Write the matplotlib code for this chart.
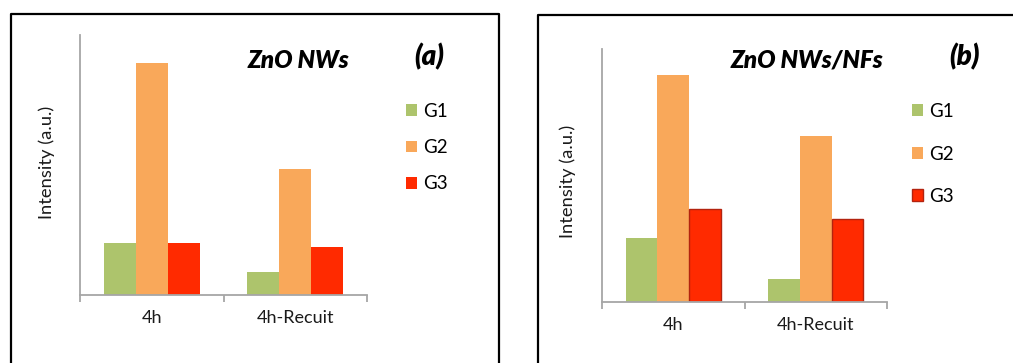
import matplotlib
matplotlib.use("Agg")
import matplotlib.pyplot as plt
from matplotlib.lines import Line2D
import numpy as np

plt.rcParams['font.family'] = ['Lato', 'DejaVu Sans']

categories = ["4h", "4h-Recuit"]
series = ["G1", "G2", "G3"]
# panel (a) ZnO NWs (arbitrary units)
a_vals = {"G1": [52, 23], "G2": [232, 126], "G3": [52, 48]}
a_ymax = 260
# panel (b) ZnO NWs/NFs
b_vals = {"G1": [64, 23], "G2": [227, 166], "G3": [93, 83]}
b_ymax = 253

colors = {"G1": "#ADC46C", "G2": "#F9A85A", "G3": "#FF2A00"}

W, H = 1013, 363
fig = plt.figure(figsize=(W / 100, H / 100), dpi=100)


def fx(px):
    return px / W


def fy(py):
    return 1 - py / H


def panel(left, right, top, bottom, vals, ymax, title, tag, title_x, tag_x,
          ylab_x, ylab_y, leg_x, leg_y, leg_sp, shaded):
    ax = fig.add_axes([fx(left), fy(bottom), fx(right - left), (bottom - top) / H])
    x = np.arange(len(categories))
    bw = 0.223
    for i, s in enumerate(series):
        ec = "#B3230F" if (shaded and s == "G3") else "none"
        lw = 1.0 if (shaded and s == "G3") else 0
        ax.bar(x + (i - 1) * bw, vals[s], width=bw, color=colors[s],
               edgecolor=ec, linewidth=lw, label=s, zorder=2)
    ax.set_xlim(-0.5, 1.5)
    ax.set_ylim(0, ymax)
    for sp in ["top", "right"]:
        ax.spines[sp].set_visible(False)
    for sp in ["left", "bottom"]:
        ax.spines[sp].set_color("#A6A6A6")
        ax.spines[sp].set_linewidth(1.3)
    ax.set_yticks([])
    ax.set_xticks(x)
    ax.set_xticklabels(categories, fontsize=13, color="#1a1a1a")
    ax.tick_params(axis="x", which="major", length=0, pad=11)
    ax.set_xticks([-0.5, 0.5, 1.5], minor=True)
    ax.tick_params(axis="x", which="minor", length=5, width=1.3, color="#A6A6A6")
    fig.text(fx(ylab_x), fy(ylab_y), "Intensity (a.u.)", rotation=90,
             ha="center", va="center", fontsize=13.2, color="#1a1a1a")
    fig.text(fx(title_x), fy(60), title, ha="center", va="center",
             fontsize=17.5, fontweight="heavy", fontstyle="italic")
    fig.text(fx(tag_x), fy(57), tag, ha="center", va="center",
             fontsize=20, fontweight="heavy", fontstyle="italic")
    ax.legend(loc="upper left", bbox_to_anchor=(fx(leg_x), fy(leg_y)),
              bbox_transform=fig.transFigure, frameon=False, fontsize=13.5,
              handlelength=0.6, handleheight=0.6, handletextpad=0.3,
              labelspacing=leg_sp, borderpad=0, borderaxespad=0)
    return ax


panel(80, 367, 35, 295, a_vals, a_ymax, "ZnO NWs", "(a)", 298, 429,
      47, 162, 406, 103, 1.02, False)
panel(602, 887, 49, 302, b_vals, b_ymax, "ZnO NWs/NFs", "(b)", 807, 965,
      568, 181, 912, 103, 1.36, True)

# outer frames
for pts in [[(11, H + 5), (11, 14), (499, 14), (499, H + 5)],
            [(538, H + 5), (538, 15), (W + 5, 15)]]:
    xs = [fx(p[0]) for p in pts]
    ys = [fy(p[1]) for p in pts]
    fig.add_artist(Line2D(xs, ys, color="black", linewidth=1.6,
                          transform=fig.transFigure))

fig.savefig("out.png", dpi=100, facecolor="white")
